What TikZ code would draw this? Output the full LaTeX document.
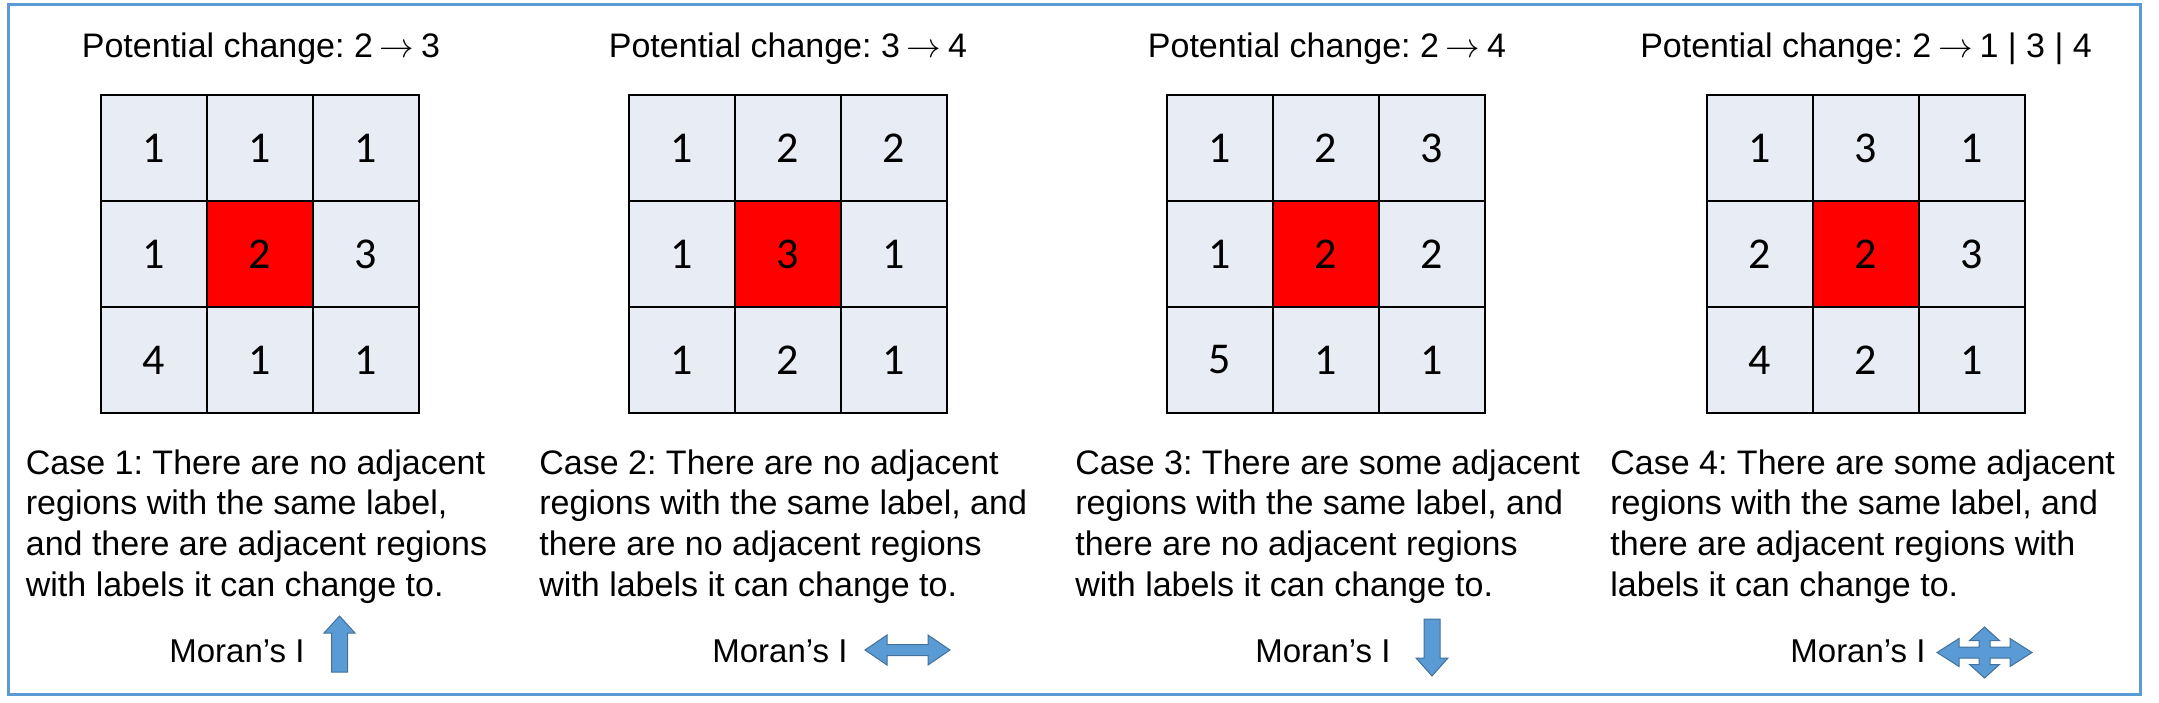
\documentclass[tikz,border=0pt]{standalone}
\usepackage{fontspec}
\setmainfont{Liberation Sans}
\newfontfamily\digitfont{Carlito}
\frenchspacing
\definecolor{cellfill}{HTML}{E8ECF5}
\definecolor{frameblue}{HTML}{5B9BD5}
\definecolor{arrowfill}{HTML}{5B9BD5}
\definecolor{arrowline}{HTML}{41719C}
\newcommand{\rarr}{\hspace{0.2em}$\rightarrow$\hspace{0.2em}}
\tikzset{
  cell/.style={draw=black, line width=1pt, fill=cellfill, minimum size=53pt, inner sep=0pt,
    font=\digitfont\fontsize{22}{26}\selectfont},
  hot/.style={cell, fill=red},
  title/.style={anchor=base, inner sep=0pt, font=\fontsize{17}{20.35}\selectfont},
  casetext/.style={anchor=north west, inner sep=0pt, align=left, font=\fontsize{17}{20.35}\selectfont},
  moran/.style={anchor=base west, inner sep=0pt, font=\fontsize{16.5}{20}\selectfont},
  arrowshape/.style={fill=arrowfill, draw=arrowline, line width=0.5pt, line join=miter},
}
\newcommand{\mkgrid}[3]{%
  \foreach \v [count=\k from 0] in {#3} {%
    \pgfmathtruncatemacro{\rr}{div(\k,3)}%
    \pgfmathtruncatemacro{\cc}{mod(\k,3)}%
    \ifnum\k=4 \def\sty{hot}\else\def\sty{cell}\fi
    \node[\sty] (#1-\rr-\cc) at ({#2+(\cc-1)*106}, {148+\rr*106}) {\v};
  }}
\begin{document}
\begin{tikzpicture}[x=0.5pt,y=-0.5pt]
\useasboundingbox (0,0) rectangle (2159,702);
\draw[frameblue, line width=1.5pt] (8.6,4) rectangle (2140,694);

% titles
\node[title] (t1) at (261,57) {Potential change: 2\rarr3};
\node[title] (t2) at (788,57) {Potential change: 3\rarr4};
\node[title] (t3) at (1327,57) {Potential change: 2\rarr4};
\node[title] (t4) at (1866,57) {Potential change: 2\rarr1 | 3 | 4};

% grids
\mkgrid{ga}{260}{1,1,1,1,2,3,4,1,1}
\mkgrid{gb}{788}{1,2,2,1,3,1,1,2,1}
\mkgrid{gc}{1326}{1,2,3,1,2,2,5,1,1}
\mkgrid{gd}{1866}{1,3,1,2,2,3,4,2,1}

% case texts
\node[casetext] (c1) at (25.5,449) {Case 1: There are no adjacent\\regions with the same label,\\and there are adjacent regions\\with labels it can change to.};
\node[casetext] (c2) at (539,449) {Case 2: There are no adjacent\\regions with the same label, and\\there are no adjacent regions\\with labels it can change to.};
\node[casetext] (c3) at (1075,449) {Case 3: There are some adjacent\\regions with the same label, and\\there are no adjacent regions\\with labels it can change to.};
\node[casetext] (c4) at (1610,449) {Case 4: There are some adjacent\\regions with the same label, and\\there are adjacent regions with\\labels it can change to.};

% Moran's I labels
\node[moran] (m1) at (169,662.5) {Moran’s I};
\node[moran] (m2) at (712,662.5) {Moran’s I};
\node[moran] (m3) at (1255,662.5) {Moran’s I};
\node[moran] (m4) at (1790,662.5) {Moran’s I};

% arrows
\draw[arrowshape] (339.5,616) -- (355,633) -- (347.5,633) -- (347.5,672) -- (331.5,672) -- (331.5,633) -- (324,633) -- cycle;
\draw[arrowshape] (865,650) -- (887,635) -- (887,644.5) -- (928,644.5) -- (928,635) -- (950,650) -- (928,665) -- (928,655.5) -- (887,655.5) -- (887,665) -- cycle;
\draw[arrowshape] (1432,676) -- (1448,658) -- (1440,658) -- (1440,619) -- (1424,619) -- (1424,658) -- (1416,658) -- cycle;
\begin{scope}[shift={(1984.5,652.5)}]
\draw[arrowshape] (0,-25.5) -- (15,-12) -- (5.5,-12) -- (5.5,-5.5) -- (25.5,-5.5) -- (25.5,-14) -- (47.5,0) -- (25.5,14) -- (25.5,5.5) -- (5.5,5.5) -- (5.5,12) -- (15,12) -- (0,25.5) -- (-15,12) -- (-5.5,12) -- (-5.5,5.5) -- (-25.5,5.5) -- (-25.5,14) -- (-47.5,0) -- (-25.5,-14) -- (-25.5,-5.5) -- (-5.5,-5.5) -- (-5.5,-12) -- (-15,-12) -- cycle;
\end{scope}
\end{tikzpicture}
\end{document}
